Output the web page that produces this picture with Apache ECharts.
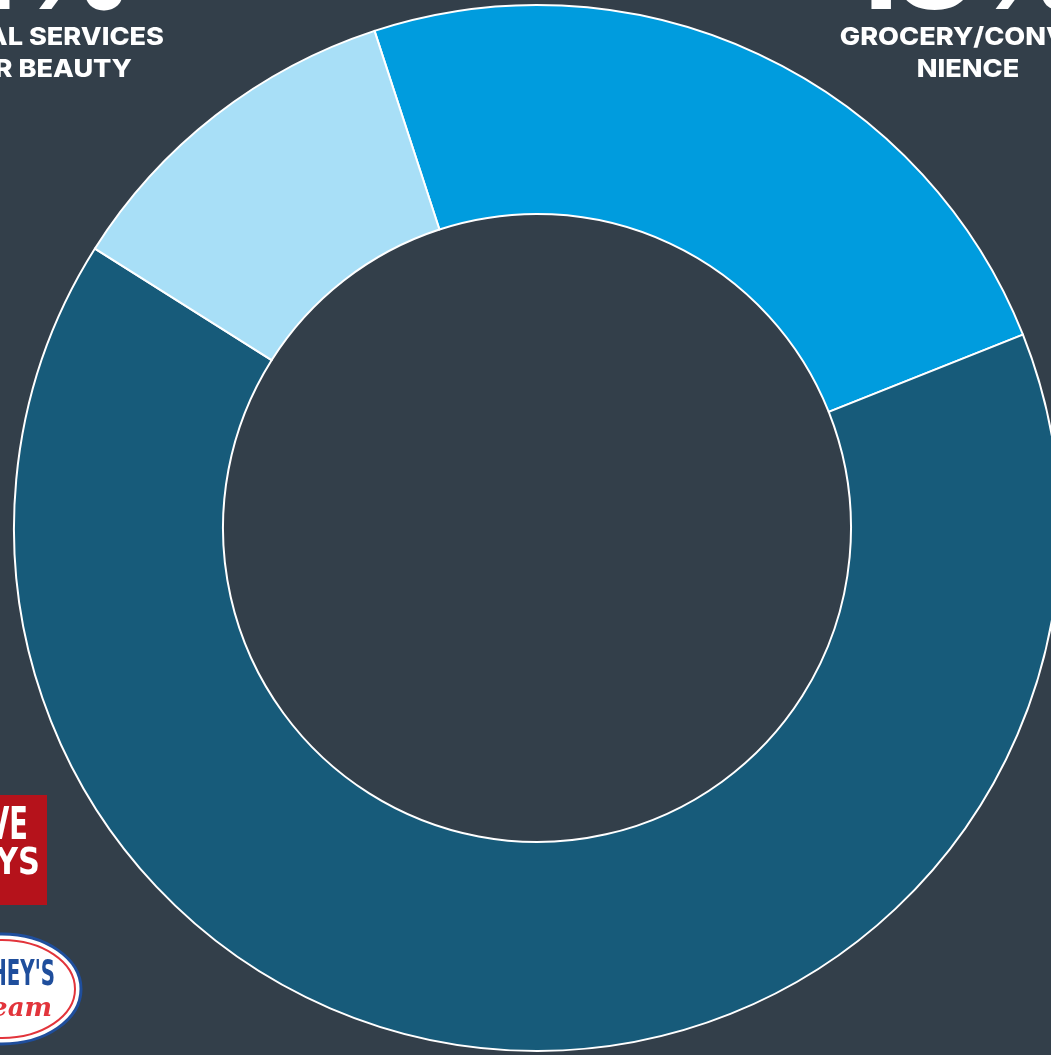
<!DOCTYPE html>
<html>
<head>
<meta charset="utf-8">
<script src="https://cdn.jsdelivr.net/npm/echarts@6/dist/echarts.min.js"></script>
<style>
html,body{margin:0;padding:0;background:#333F4A;}
#main{width:1051px;height:1055px;}
</style>
</head>
<body>
<div id="main"></div>
<script>
// Data
const categories = ['Grocery/Convenience', 'Restaurants & Other', 'Personal Services / Hair Beauty'];
const values = [24, 65, 11];
const colors = ['#009CDE', '#175B7A', '#A8DFF7'];
const labelTexts = {
  leftNumber: '11%',
  leftLine1: 'PERSONAL SERVICES',
  leftLine2: 'OR BEAUTY',
  rightNumber: '18%',
  rightLine1: 'GROCERY/CONVE-',
  rightLine2: 'NIENCE'
};

const chart = echarts.init(document.getElementById('main'), null, {renderer: 'canvas'});
const font = 'Inter, "Open Sans", sans-serif';
const logoFont = '"DejaVu Sans", sans-serif';
const sx = 1.085;

chart.setOption({
  backgroundColor: '#333F4A',
  animation: false,
  series: [{
    type: 'pie',
    center: [537, 528],
    radius: [314, 523],
    startAngle: 108.1,
    clockwise: true,
    silent: true,
    label: {show: false},
    labelLine: {show: false},
    itemStyle: {borderColor: '#FFFFFF', borderWidth: 2},
    data: categories.map((c, i) => ({name: c, value: values[i], itemStyle: {color: colors[i]}}))
  }],
  graphic: [
    // left label block
    {type: 'text', x: 132, y: -22, scaleX: sx, style: {text: labelTexts.leftNumber, font: '800 104px ' + font, fill: '#FFFFFF', align: 'right', verticalAlign: 'middle'}},
    {type: 'text', x: 164, y: 37, scaleX: sx, style: {text: labelTexts.leftLine1, font: '800 25px ' + font, fill: '#FFFFFF', align: 'right', verticalAlign: 'middle'}},
    {type: 'text', x: 132, y: 69, scaleX: sx, style: {text: labelTexts.leftLine2, font: '800 25px ' + font, fill: '#FFFFFF', align: 'right', verticalAlign: 'middle'}},
    // right label block
    {type: 'text', x: 968, y: -22, scaleX: sx, style: {text: labelTexts.rightNumber, font: '800 104px ' + font, fill: '#FFFFFF', align: 'center', verticalAlign: 'middle'}},
    {type: 'text', x: 968, y: 37, scaleX: sx, style: {text: labelTexts.rightLine1, font: '800 25px ' + font, fill: '#FFFFFF', align: 'center', verticalAlign: 'middle'}},
    {type: 'text', x: 968, y: 69, scaleX: sx, style: {text: labelTexts.rightLine2, font: '800 25px ' + font, fill: '#FFFFFF', align: 'center', verticalAlign: 'middle'}},
    // Five Guys style logo
    {type: 'rect', shape: {x: -40, y: 795, width: 87, height: 110}, style: {fill: '#B5121B'}},
    {type: 'text', x: 28, y: 828, scaleX: 0.62, style: {text: 'FIVE', font: 'bold 44px ' + logoFont, fill: '#FFFFFF', align: 'right', verticalAlign: 'middle'}},
    {type: 'text', x: 40, y: 864, scaleX: 0.8, style: {text: 'GUYS', font: 'bold 38px ' + logoFont, fill: '#FFFFFF', align: 'right', verticalAlign: 'middle'}},
    // Hershey's style logo
    {type: 'ellipse', shape: {cx: 2, cy: 989, rx: 79, ry: 55}, style: {fill: '#FFFFFF', stroke: '#1F4E9C', lineWidth: 3}},
    {type: 'ellipse', shape: {cx: 2, cy: 989, rx: 73, ry: 49}, style: {fill: 'none', stroke: '#E2343B', lineWidth: 2}},
    {type: 'text', x: 55, y: 976, scaleX: 0.55, style: {text: "HERSHEY'S", font: 'bold 36px ' + logoFont, fill: '#1F4E9C', align: 'right', verticalAlign: 'middle'}},
    {type: 'text', x: 52, y: 1009, style: {text: 'Ice Cream', font: 'italic 700 26px "DejaVu Serif", serif', fill: '#E2343B', align: 'right', verticalAlign: 'middle'}}
  ]
});
</script>
</body>
</html>
